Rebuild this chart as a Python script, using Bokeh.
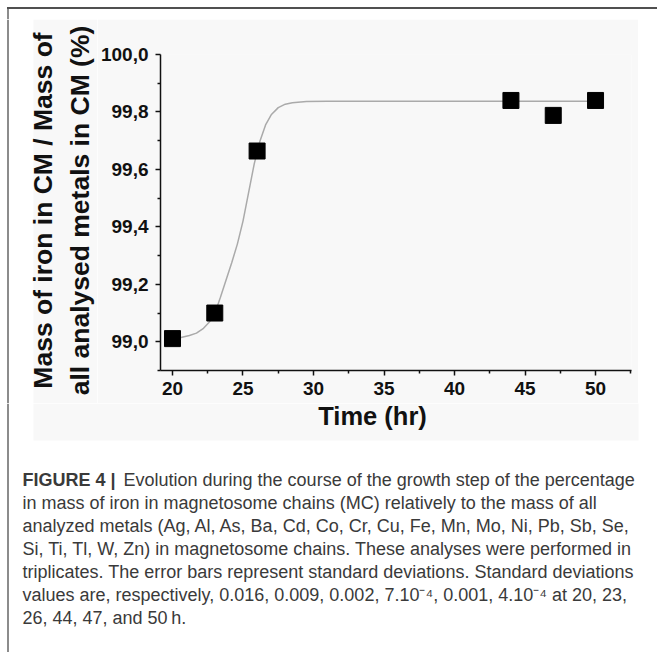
import math
from bokeh.plotting import figure
from bokeh.layouts import column, row
from bokeh.models import Range1d, FixedTicker, CustomJSTickFormatter, Label
from bokeh.embed import file_html
from bokeh.resources import INLINE

# ---------------- data ----------------
TIME_H = [20, 23, 26, 44, 47, 50]
IRON_PCT = [99.011, 99.100, 99.664, 99.840, 99.788, 99.840]

# fitted curve
CURVE_T = [20.0, 20.6, 21.2, 21.7, 22.2, 22.6, 23.0, 23.4, 23.8, 24.2, 24.6,
           25.0, 25.4, 25.8, 26.2, 26.6, 27.0, 27.5, 28.0, 28.5, 29.5, 31.0,
           35.0, 40.0, 45.0, 50.0]
CURVE_PCT = [99.010, 99.015, 99.022, 99.030, 99.047, 99.068, 99.098, 99.155,
             99.215, 99.275, 99.340, 99.420, 99.520, 99.620, 99.698, 99.755,
             99.790, 99.815, 99.827, 99.832, 99.836, 99.837, 99.837, 99.837,
             99.837, 99.837]

X_TICKS = [20, 25, 30, 35, 40, 45, 50]
X_MINOR = [22.5, 27.5, 32.5, 37.5, 42.5, 47.5, 52.5]
Y_TICKS = [99.0, 99.2, 99.4, 99.6, 99.8, 100.0]
Y_MINOR = [98.9, 99.1, 99.3, 99.5, 99.7, 99.9]

X_TITLE = "Time (hr)"
Y_TITLE_1 = "Mass of iron in CM / Mass of"
Y_TITLE_2 = "all analysed metals in CM (%)"

CAPTION_HEAD = "FIGURE 4 |"
CAPTION_LINES = [
    "Evolution during the course of the growth step of the percentage",
    "in mass of iron in magnetosome chains (MC) relatively to the mass of all",
    "analyzed metals (Ag, Al, As, Ba, Cd, Co, Cr, Cu, Fe, Mn, Mo, Ni, Pb, Sb, Se,",
    "Si, Ti, Tl, W, Zn) in magnetosome chains. These analyses were performed in",
    "triplicates. The error bars represent standard deviations. Standard deviations",
    "values are, respectively, 0.016, 0.009, 0.002, 7.10\u207b\u2074, 0.001, 4.10\u207b\u2074 at 20, 23,",
    "26, 44, 47, and 50\u2009h.",
]

# ---------------- layout (global canvas pixels) ----------------
W, H = 657, 652
ROW_A = 19          # top strip
ROW_B = 403         # bottom of chart row
CX0, CX1 = 97, 638  # chart figure horizontal extent
FL, FR, FT, FB = 157, 631, 54, 370   # plot frame edges
BOX = (33, 638, 19, 440)             # light gray panel
GRAY = "#f8f8f8"
FONT = "Liberation Sans"
TOP_LINE = "#505050"
LEFT_LINE = "#8c8c8c"
INK = "#111111"
CAP_INK = "#3a3a3a"


def no_align(f):
    try:
        f.frame_align = False
    except Exception:
        pass
    return f


def decor(x0, x1, y0, y1):
    """A plain drawing surface whose data space equals canvas pixels."""
    f = figure(width=x1 - x0, height=y1 - y0, output_backend="svg",
               toolbar_location=None, x_range=Range1d(x0, x1),
               y_range=Range1d(y1, y0), x_axis_location=None,
               y_axis_location=None, min_border=0)
    no_align(f)
    f.grid.visible = False
    f.outline_line_color = None
    f.background_fill_color = "white"
    f.border_fill_color = "white"
    # gray panel part inside this strip
    l, r = max(BOX[0], x0), min(BOX[1], x1)
    t, b = max(BOX[2], y0), min(BOX[3], y1)
    if l < r and t < b:
        f.quad(left=[l], right=[r], top=[t], bottom=[b], fill_color=GRAY,
               line_color=None)
    # left frame line
    if x0 <= 7.5 <= x1:
        f.segment(x0=[7.5], y0=[max(6.5, y0)], x1=[7.5], y1=[y1],
                  line_color=LEFT_LINE, line_width=2)
    return f


# top strip
top = decor(0, W, 0, ROW_A)
top.segment(x0=[6.5], y0=[7.5], x1=[W], y1=[7.5], line_color=TOP_LINE,
            line_width=2)

# left strip with the y title
left = decor(0, CX0, ROW_A, ROW_B)
for txt, bx in ((Y_TITLE_1, 42), (Y_TITLE_2, 79)):
    left.add_layout(Label(x=bx, y=210, text=txt, angle=math.pi / 2,
                          text_align="center", text_baseline="alphabetic",
                          text_font=FONT, text_font_style="bold",
                          text_font_size="26.5px", text_color=INK))

# right strip
right = decor(CX1, W, ROW_A, ROW_B)

# bottom strip with x title and caption
bottom = decor(0, W, ROW_B, H)
bottom.add_layout(Label(x=372, y=415, text=X_TITLE, text_align="center",
                        text_baseline="alphabetic", text_font=FONT,
                        text_font_style="bold", text_font_size="25.5px",
                        text_color=INK))
CAP_Y0, CAP_DY = 479.5, 23
bottom.add_layout(Label(x=22, y=CAP_Y0, text=CAPTION_HEAD, text_align="left",
                        text_baseline="alphabetic", text_font=FONT,
                        text_font_style="bold", text_font_size="18px",
                        text_color=CAP_INK))
for i, line in enumerate(CAPTION_LINES):
    bottom.add_layout(Label(x=123 if i == 0 else 22, y=CAP_Y0 + CAP_DY * i,
                            text=line, text_align="left",
                            text_baseline="alphabetic", text_font=FONT,
                            text_font_size="18px", text_color=CAP_INK))

# the chart itself
p = figure(width=CX1 - CX0, height=ROW_B - ROW_A, output_backend="svg",
           toolbar_location=None,
           x_range=Range1d(19.15, 52.55), y_range=Range1d(98.9, 100.0),
           min_border_left=FL - CX0, min_border_right=CX1 - FR,
           min_border_top=FT - ROW_A, min_border_bottom=ROW_B - FB)
no_align(p)
p.grid.visible = False
p.outline_line_color = None
p.background_fill_color = GRAY
p.border_fill_color = GRAY

for ax in (p.xaxis[0], p.yaxis[0]):
    ax.axis_line_color = INK
    ax.axis_line_width = 1.5
    ax.major_tick_line_color = INK
    ax.major_tick_line_width = 1.5
    ax.minor_tick_line_color = INK
    ax.minor_tick_line_width = 1.5
    ax.major_tick_in = 0
    ax.major_tick_out = 5
    ax.minor_tick_in = 0
    ax.minor_tick_out = 3
    ax.major_label_text_font = FONT
    ax.major_label_text_font_style = "bold"
    ax.major_label_text_font_size = "19px"
    ax.major_label_text_color = INK
p.xaxis[0].major_label_standoff = 6
p.yaxis[0].major_label_standoff = 7

p.xaxis[0].ticker = FixedTicker(ticks=X_TICKS, minor_ticks=X_MINOR)
p.yaxis[0].ticker = FixedTicker(ticks=Y_TICKS, minor_ticks=Y_MINOR)
p.yaxis[0].formatter = CustomJSTickFormatter(
    code="return tick.toFixed(1).replace('.', ',');")

p.line(CURVE_T, CURVE_PCT, line_color="#aaaaaa", line_width=1.5)
p.scatter(TIME_H, IRON_PCT, marker="square", size=16, fill_color="black",
          line_color="black")

layout = column(top, row(left, p, right, spacing=0), bottom, spacing=0)
open("out.html", "w").write(file_html(layout, INLINE))
